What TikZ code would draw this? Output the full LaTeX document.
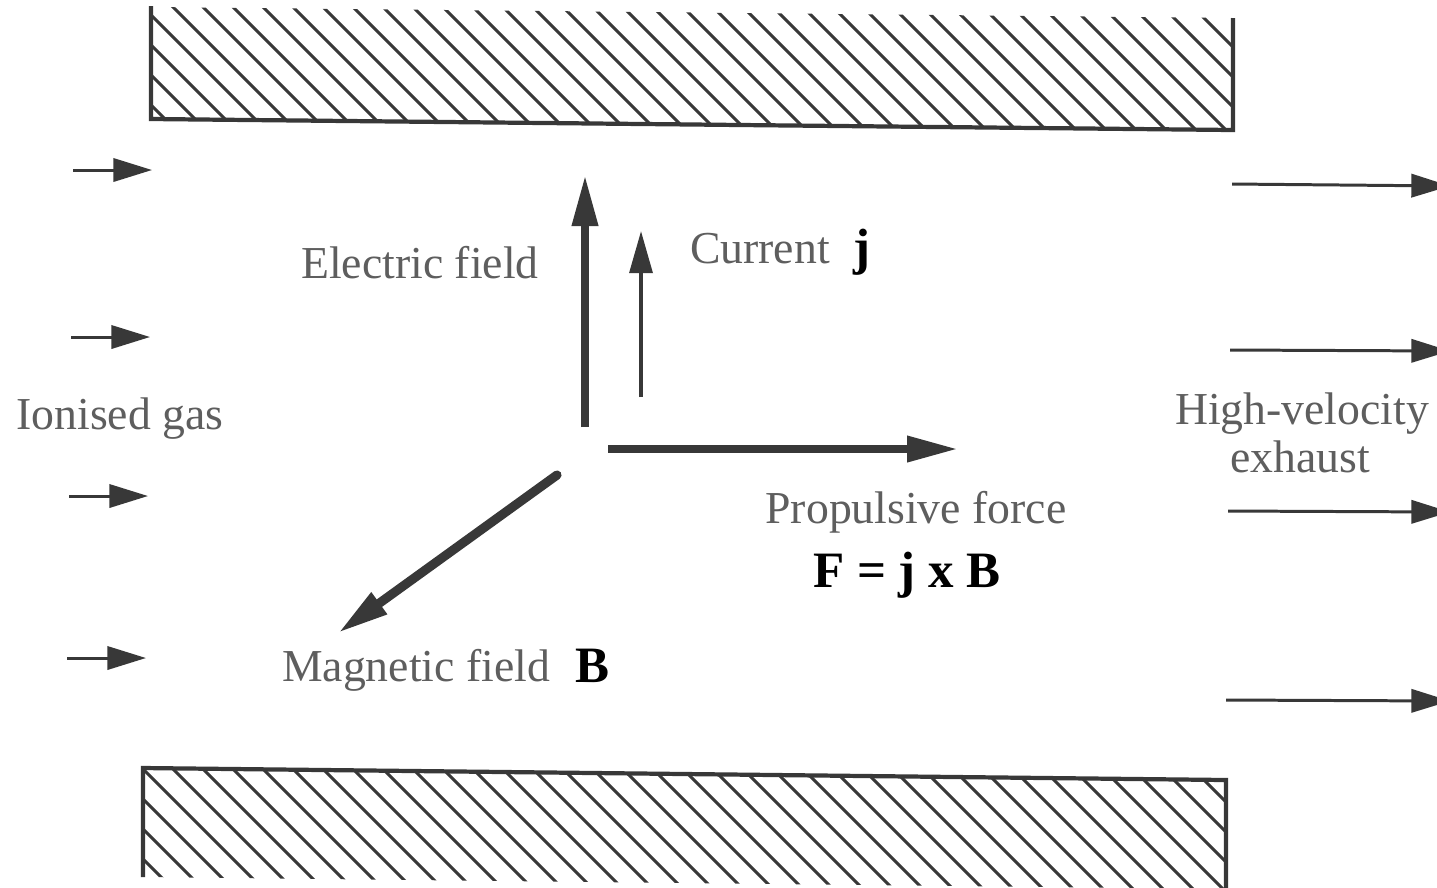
\documentclass[tikz,border=0pt]{standalone}
\usepackage{fontspec}
\setmainfont{Liberation Serif}
\usetikzlibrary{arrows.meta}
\definecolor{ink}{HTML}{383838}
\definecolor{lbl}{HTML}{5E5E5E}
\begin{document}
\begin{tikzpicture}[x=0.01cm,y=-0.01cm,
  lab/.style={text=lbl,font=\fontsize{13}{15}\selectfont,inner sep=0pt,anchor=base},
  sym/.style={text=black,font=\bfseries\fontsize{14.5}{17}\selectfont,inner sep=0pt,anchor=base},
  plate/.style={draw=ink,line width=1.2pt,line join=miter},
  hatch/.style={draw=ink,line width=0.85pt},
  bigarrow/.style={draw=ink,line width=2.3pt,-{Triangle[length=14.5pt,width=7pt]}},
  midarrow/.style={draw=ink,line width=1.1pt,-{Triangle[length=12pt,width=6.5pt]}},
  flowarrow/.style={draw=ink,line width=0.85pt,-{Triangle[length=11pt,width=6.6pt]}}
]
\useasboundingbox (0,0) rectangle (1437,887);
\fill[white] (0,0) rectangle (1437,887);

% ---- top plate ----
\begin{scope}
  \clip (151,7) -- (151,119) -- (1233,130) -- (1233,18) -- cycle;
  \foreach \k in {-12,...,42} \draw[hatch] ({16+30*\k},0) -- ++(200,200);
\end{scope}
\draw[plate] (151,6) -- (151,119) -- (1233,130) -- (1233,18);

% ---- bottom plate ----
\begin{scope}
  \clip (143,768) -- (1226,780) -- (1226,889) -- (143,877) -- cycle;
  \foreach \k in {-26,...,20} \draw[hatch] ({704+30*\k},700) -- ++(250,250);
\end{scope}
\draw[plate] (143,877) -- (143,768) -- (1226,780) -- (1226,890);

% ---- coordinates ----
\coordinate (e0) at (585,427);  \coordinate (e1) at (585,175);
\coordinate (c0) at (641,397);  \coordinate (c1) at (641,231);
\coordinate (p0) at (608,449);  \coordinate (p1) at (958,449);
\coordinate (m0) at (557,475);  \coordinate (m1) at (338,633);

\coordinate (i1a) at (73,170);  \coordinate (i1b) at (152,170);
\coordinate (i2a) at (71,337);  \coordinate (i2b) at (150,337);
\coordinate (i3a) at (69,496);  \coordinate (i3b) at (148,496);
\coordinate (i4a) at (67,658);  \coordinate (i4b) at (146,658);

\coordinate (o1a) at (1232,184); \coordinate (o1b) at (1450,186);
\coordinate (o2a) at (1230,350); \coordinate (o2b) at (1450,351);
\coordinate (o3a) at (1228,511); \coordinate (o3b) at (1450,512);
\coordinate (o4a) at (1226,700); \coordinate (o4b) at (1450,701);

% ---- field arrows ----
\draw[bigarrow] (e0) -- (e1);
\draw[midarrow] (c0) -- (c1);
\draw[bigarrow] (p0) -- (p1);
\draw[bigarrow,line width=2.6pt,line cap=round] (m0) -- (m1);

% ---- flow arrows ----
\foreach \n in {1,2,3,4} {
  \draw[flowarrow] (i\n a) -- (i\n b);
  \draw[flowarrow] (o\n a) -- (o\n b);
}

% ---- labels ----
\node[lab] (ef) at (420,278) {Electric field};
\node[lab] (cur) at (760,263) {Current};
\node[sym] (jj) at (862,264) {j};
\node[lab] (ig) at (120,429) {Ionised gas};
\node[lab] (hv) at (1302,424) {High-velocity};
\node[lab] (ex) at (1300,472) {exhaust};
\node[lab] (pf) at (916,523) {Propulsive force};
\node[sym] (fx) at (907,587) {F = j x B};
\node[lab] (mf) at (416,681) {Magnetic field};
\node[sym] (bb) at (592,682) {B};
\end{tikzpicture}
\end{document}
